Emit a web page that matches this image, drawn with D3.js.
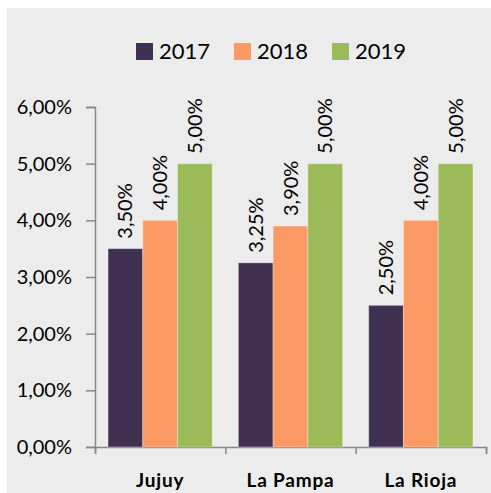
<!DOCTYPE html>
<html>
<head>
<meta charset="utf-8">
<script src="https://cdn.jsdelivr.net/npm/d3@7"></script>
<style>
  body { margin: 0; background: #fff; }
  svg { display: block; font-family: Lato, "Open Sans", sans-serif; }
</style>
</head>
<body>
<div id="chart"></div>
<script>
// chart values
const categories = ["Jujuy", "La Pampa", "La Rioja"];
const years = ["2017", "2018", "2019"];
const values2017 = [3.50, 3.25, 2.50];
const values2018 = [4.00, 3.90, 4.00];
const values2019 = [5.00, 5.00, 5.00];
const yTicks = [0, 1, 2, 3, 4, 5, 6];
const colors = ["#403152", "#fb9a64", "#9bbb59"];

const series = [values2017, values2018, values2019];
const data = categories.map((c, i) => ({
    cat: c,
    vals: years.map((y, j) => ({ year: y, v: series[j][i] }))
}));

let svgWidth = 491;
let svgHeight = 493;

let margin = { top: 107, right: 5, bottom: 46, left: 95 };
let width = svgWidth - margin.left - margin.right;
let height = svgHeight - margin.top - margin.bottom;

let svg = d3.select("#chart")
    .append("svg")
    .attr("width", svgWidth)
    .attr("height", svgHeight);

// grey chart area
svg.append("rect")
    .attr("x", 7).attr("y", 8)
    .attr("width", svgWidth - 7).attr("height", svgHeight - 8)
    .attr("fill", "#ececec");

let g = svg.append("g")
    .attr("transform", `translate(${margin.left}, ${margin.top})`);

// scales
let x0 = d3.scaleBand()
    .domain(categories)
    .range([0, width]);

let gap = x0.bandwidth() * 0.1;
let x1 = d3.scaleBand()
    .domain(years)
    .range([gap, x0.bandwidth() - gap]);

let y = d3.scaleLinear()
    .domain([0, 6])
    .range([height, 0]);

let fmt = d => d.toFixed(2).replace(".", ",") + "%";

// y axis
let leftAxis = d3.axisLeft(y)
    .tickValues(yTicks)
    .tickSize(9)
    .tickPadding(14)
    .tickFormat(fmt);

let yAx = g.append("g").call(leftAxis);
yAx.selectAll("text").attr("font-size", 20).attr("fill", "#000").attr("font-family", "Lato, sans-serif");

// x axis: ticks on the category boundaries
let xEdge = d3.scaleLinear().domain([0, categories.length]).range([0, width]);
let xAx = g.append("g")
    .attr("transform", `translate(0, ${height})`)
    .call(d3.axisBottom(xEdge).ticks(3).tickSize(7).tickSizeOuter(7).tickFormat(""));

[yAx, xAx].forEach(a => {
    a.select(".domain").attr("stroke", "#878787").attr("stroke-width", 1.5);
    a.selectAll(".tick line").attr("stroke", "#878787").attr("stroke-width", 1.5);
});

// category labels
g.selectAll(".catLabel")
    .data(categories)
    .join("text")
    .attr("class", "catLabel")
    .attr("x", d => x0(d) + x0.bandwidth() / 2)
    .attr("y", height + 40)
    .attr("text-anchor", "middle")
    .attr("font-size", 19)
    .attr("font-weight", "bold")
    .attr("letter-spacing", 0.8)
    .text(d => d);

// bars
let groups = g.selectAll(".grp")
    .data(data)
    .join("g")
    .attr("class", "grp")
    .attr("transform", d => `translate(${x0(d.cat)}, 0)`);

groups.selectAll("rect")
    .data(d => d.vals)
    .join("rect")
    .attr("x", d => x1(d.year))
    .attr("y", d => y(d.v))
    .attr("width", x1.bandwidth())
    .attr("height", d => height - y(d.v))
    .attr("fill", (d, i) => colors[i])
    .attr("stroke", "rgba(255,255,255,0.35)")
    .attr("stroke-width", 1);

// rotated value labels
groups.selectAll("text")
    .data(d => d.vals)
    .join("text")
    .attr("transform", d => `translate(${x1(d.year) + x1.bandwidth() / 2 + 7}, ${y(d.v) - 10}) rotate(-90)`)
    .attr("font-size", 20)
    .text(d => fmt(d.v));

// legend
let legend = svg.append("g")
    .attr("transform", "translate(136, 43)");

let legendX = [0, 98, 196];
years.forEach((yr, i) => {
    legend.append("rect")
        .attr("x", legendX[i]).attr("y", 0)
        .attr("width", 17).attr("height", 17)
        .attr("fill", colors[i]);
    legend.append("text")
        .attr("x", legendX[i] + 23).attr("y", 16)
        .attr("font-size", 22)
        .text(yr);
});
</script>
</body>
</html>
